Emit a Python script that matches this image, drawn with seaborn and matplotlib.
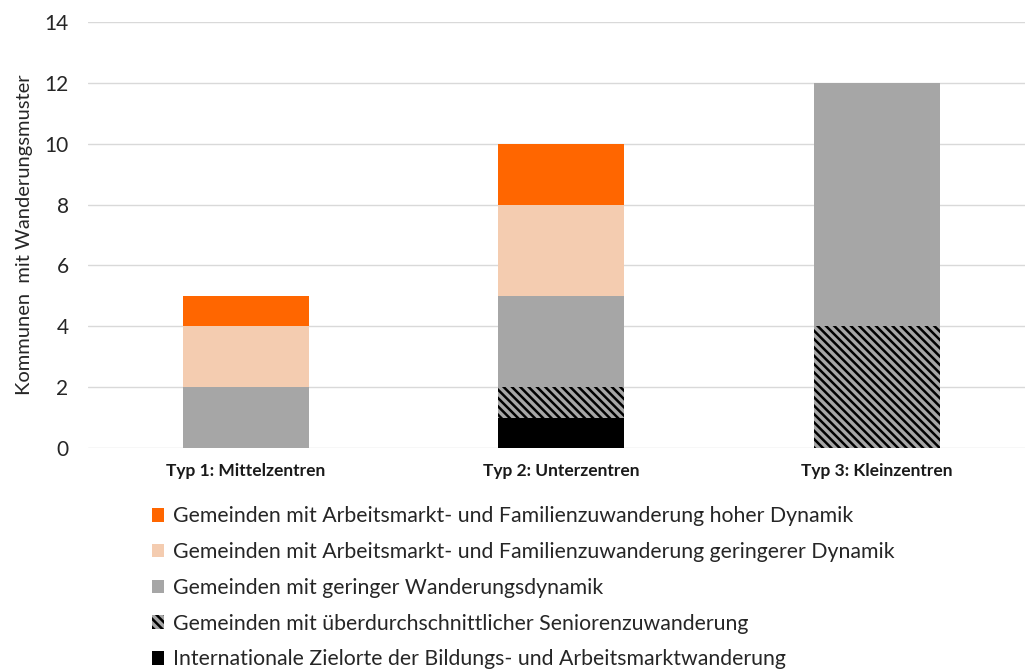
import numpy as np
import pandas as pd
import matplotlib
matplotlib.use("Agg")
import matplotlib.pyplot as plt
import seaborn as sns
from matplotlib.patches import Patch

# data
categories = ["Typ 1: Mittelzentren", "Typ 2: Unterzentren", "Typ 3: Kleinzentren"]
series_names = [
    "Internationale Zielorte der Bildungs- und Arbeitsmarktwanderung",
    "Gemeinden mit überdurchschnittlicher Seniorenzuwanderung",
    "Gemeinden mit geringer Wanderungsdynamik",
    "Gemeinden mit Arbeitsmarkt- und Familienzuwanderung geringerer Dynamik",
    "Gemeinden mit Arbeitsmarkt- und Familienzuwanderung hoher Dynamik",
]
international = [0, 1, 0]
senioren = [0, 1, 4]
gering = [2, 3, 8]
geringere_dyn = [2, 3, 0]
hohe_dyn = [1, 2, 0]
y_ticks = [0, 2, 4, 6, 8, 10, 12, 14]

series_values = [international, senioren, gering, geringere_dyn, hohe_dyn]
colors = ["#000000", "#A6A6A6", "#A6A6A6", "#F4CCB0", "#FF6600"]
hatches = [None, "\\\\\\\\", None, None, None]

sns.set_style("white")
plt.rcParams["font.family"] = ["Lato", "DejaVu Sans"]
plt.rcParams["hatch.color"] = "black"
plt.rcParams["hatch.linewidth"] = 1.8

fig = plt.figure(figsize=(10.25, 6.7), dpi=100)
ax = fig.add_axes([88 / 1025, 222 / 670, 1 - 88 / 1025, 426 / 670])
ax.set_axisbelow(True)

bottom = np.zeros(len(categories))
for name, vals, col, h in zip(series_names, series_values, colors, hatches):
    df = pd.DataFrame({"cat": categories, "val": vals})
    sns.barplot(data=df, x="cat", y="val", bottom=bottom, color=col,
                width=0.4, ax=ax, linewidth=0, edgecolor="black",
                hatch=h, saturation=1, errorbar=None)
    bottom = bottom + np.array(vals)

ax.set_xlim(-0.5, 2.47)
ax.set_ylim(0, 14)
ax.set_yticks(y_ticks)
ax.yaxis.grid(True, color="#D9D9D9", linewidth=1)
ax.set_xlabel("")
ax.set_ylabel("Kommunen  mit Wanderungsmuster", fontsize=14.5, color="#262626",
              labelpad=8)
ax.tick_params(axis="y", labelsize=15, colors="#262626", length=0, pad=14)
ax.tick_params(axis="x", length=0, pad=11)
for lbl in ax.get_xticklabels():
    lbl.set_fontweight("bold")
    lbl.set_fontsize(12.5)
    lbl.set_color("#1a1a1a")
for s in ax.spines.values():
    s.set_visible(False)

# legend in the order shown below the chart
order = [4, 3, 2, 1, 0]
handles = [Patch(facecolor=colors[i], hatch=hatches[i], linewidth=0, edgecolor="black")
           for i in order]
labels = [series_names[i] for i in order]
fig.legend(handles, labels, loc="upper left", bbox_to_anchor=(143 / 1025, 1 - 498 / 670),
           frameon=False, fontsize=15.3, handlelength=0.6, handleheight=0.6,
           handletextpad=0.4, labelspacing=0.74, borderaxespad=0,
           labelcolor="#262626")

fig.savefig("out.png", dpi=100)
